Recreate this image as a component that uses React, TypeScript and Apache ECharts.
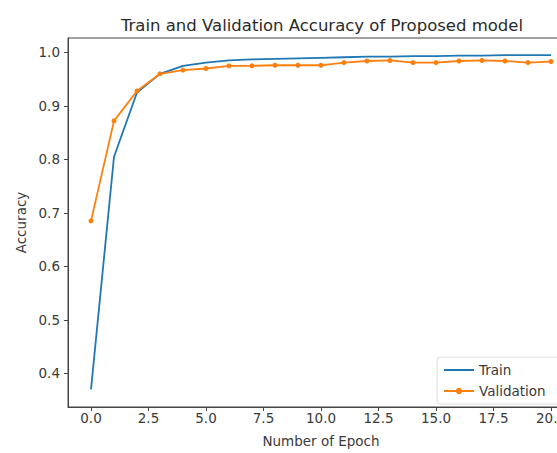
import React, { useEffect, useRef } from "react";
import * as echarts from "echarts";

const epochs = [0, 1, 2, 3, 4, 5, 6, 7, 8, 9, 10, 11, 12, 13, 14, 15, 16, 17, 18, 19, 20];
const trainAcc = [0.37, 0.805, 0.925, 0.96, 0.975, 0.981, 0.985, 0.987, 0.988, 0.989, 0.99, 0.991, 0.992, 0.992, 0.993, 0.993, 0.994, 0.994, 0.995, 0.995, 0.995];
const valAcc = [0.685, 0.872, 0.928, 0.96, 0.967, 0.97, 0.975, 0.975, 0.976, 0.976, 0.976, 0.981, 0.984, 0.985, 0.981, 0.981, 0.984, 0.985, 0.984, 0.981, 0.983];
const xTicks = [0, 2.5, 5, 7.5, 10, 12.5, 15, 17.5, 20];
const yTicks = [0.4, 0.5, 0.6, 0.7, 0.8, 0.9, 1.0];

const FONT = "DejaVu Sans";
const TXT = "#3a3a3a";

export default function App() {
  const ref = useRef<HTMLDivElement>(null);
  useEffect(() => {
    if (!ref.current) return;
    const chart = echarts.init(ref.current, undefined, { renderer: "svg" });
    chart.setOption({
      animation: false,
      backgroundColor: "#fff",
      textStyle: { fontFamily: FONT },
      title: {
        text: "Train and Validation Accuracy of Proposed model",
        left: 317,
        textAlign: "center",
        top: 12,
        textStyle: { fontFamily: FONT, fontSize: 16.5, fontWeight: "normal", color: "#2a2a2a" },
      },
      grid: {
        left: 68,
        top: 38,
        width: 506,
        height: 373,
        show: true,
        borderColor: "#444",
        borderWidth: 1,
        backgroundColor: "transparent",
      },
      legend: {
        orient: "vertical",
        left: 437,
        top: 357,
        itemWidth: 30,
        itemHeight: 8,
        itemGap: 7,
        padding: [6, 30, 6, 6],
        borderColor: "#ddd",
        borderWidth: 1,
        borderRadius: 3,
        backgroundColor: "rgba(255,255,255,0.85)",
        textStyle: { fontFamily: FONT, fontSize: 13.5, color: TXT },
        data: [
          { name: "Train", itemStyle: { opacity: 0 } },
          { name: "Validation" },
        ],
      },
      xAxis: {
        type: "value",
        min: -1,
        max: 21,
        name: "Number of Epoch",
        nameLocation: "middle",
        nameGap: 27,
        nameTextStyle: { fontFamily: FONT, fontSize: 13.5, color: TXT },
        splitLine: { show: false },
        axisLine: { show: true, onZero: false, lineStyle: { color: "#444" } },
        axisTick: { show: true, customValues: xTicks, length: 4, lineStyle: { color: "#444" } },
        axisLabel: {
          customValues: xTicks,
          fontFamily: FONT,
          fontSize: 13.5,
          color: TXT,
          margin: 4,
          formatter: (v: number) => v.toFixed(1),
        },
      },
      yAxis: {
        type: "value",
        min: 0.337,
        max: 1.027,
        name: "Accuracy",
        nameLocation: "middle",
        nameGap: 40,
        nameTextStyle: { fontFamily: FONT, fontSize: 13.5, color: TXT },
        splitLine: { show: false },
        axisLine: { show: true, onZero: false, lineStyle: { color: "#444" } },
        axisTick: { show: true, customValues: yTicks, length: 4, lineStyle: { color: "#444" } },
        axisLabel: {
          customValues: yTicks,
          fontFamily: FONT,
          fontSize: 13.5,
          color: TXT,
          margin: 8,
          formatter: (v: number) => v.toFixed(1),
        },
      },
      series: [
        {
          name: "Train",
          type: "line",
          data: epochs.map((e, i) => [e, trainAcc[i]]),
          showSymbol: false,
          symbol: "none",
          lineStyle: { color: "#1f77b4", width: 1.8 },
          itemStyle: { color: "#1f77b4" },
        },
        {
          name: "Validation",
          type: "line",
          data: epochs.map((e, i) => [e, valAcc[i]]),
          symbol: "circle",
          symbolSize: 5,
          lineStyle: { color: "#ff7f0e", width: 1.8 },
          itemStyle: { color: "#ff7f0e" },
        },
      ],
    });
    return () => chart.dispose();
  }, []);
  return (
    <div style={{ width: 557, height: 453, position: "absolute", left: 0, top: 0, overflow: "hidden", background: "#fff" }}>
      <div ref={ref} style={{ width: 600, height: 453 }} />
    </div>
  );
}
